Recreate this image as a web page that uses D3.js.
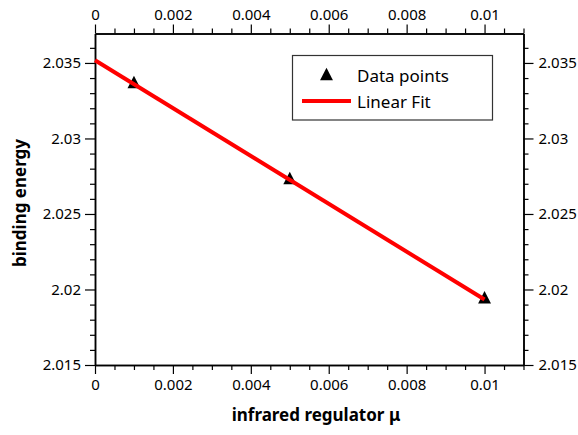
<!DOCTYPE html>
<html>
<head>
<meta charset="utf-8">
<script src="https://cdn.jsdelivr.net/npm/d3@7"></script>
<style>
  html, body { margin: 0; padding: 0; background: #fff; }
  svg { display: block; font-family: "Noto Sans", "Open Sans", sans-serif; }
</style>
</head>
<body>
<svg id="chart" width="578" height="435"></svg>
<script>
// Measured binding energy against the infrared regulator
const regulatorValues = [0.001, 0.005, 0.01];
const bindingEnergy = [2.0336, 2.02725, 2.01934];

// Tick values for both axes
const xTickValues = [0, 0.002, 0.004, 0.006, 0.008, 0.01];
const yTickValues = [2.015, 2.02, 2.025, 2.03, 2.035];

const xDomain = [0, 0.011];
const yDomain = [2.015, 2.03695];

const svg = d3.select("#chart");
const margin = { left: 95, right: 578 - 523.5, top: 33.5, bottom: 435 - 365 };
const W = 578, H = 435;

const x = d3.scaleLinear().domain(xDomain).range([margin.left, W - margin.right]);
const y = d3.scaleLinear().domain(yDomain).range([H - margin.bottom, margin.top]);

const xMinor = d3.range(0, 0.01101, 0.0005).filter(v => !xTickValues.some(t => Math.abs(t - v) < 1e-9));
const yMinor = d3.range(2.015, 2.0370, 0.001).filter(v => !yTickValues.some(t => Math.abs(t - v) < 1e-9));

const fmt = d => d3.format("~g")(d);

function styleAxis(g) {
  g.select(".domain").attr("stroke", "#000").attr("stroke-width", 1.5);
  g.selectAll(".tick line").attr("stroke", "#000").attr("stroke-width", 1.2);
  g.selectAll(".tick text").attr("fill", "#000").attr("font-size", 15)
    .attr("font-family", '"Noto Sans", sans-serif');
}

// Minor ticks drawn first, then major axes on top
svg.append("g").attr("transform", `translate(0,${y.range()[0]})`)
  .call(d3.axisBottom(x).tickValues(xMinor).tickSize(5).tickFormat("").tickSizeOuter(0)).call(styleAxis);
svg.append("g").attr("transform", `translate(0,${y.range()[1]})`)
  .call(d3.axisTop(x).tickValues(xMinor).tickSize(5).tickFormat("").tickSizeOuter(0)).call(styleAxis);
svg.append("g").attr("transform", `translate(${x.range()[0]},0)`)
  .call(d3.axisLeft(y).tickValues(yMinor).tickSize(5).tickFormat("").tickSizeOuter(0)).call(styleAxis);
svg.append("g").attr("transform", `translate(${x.range()[1]},0)`)
  .call(d3.axisRight(y).tickValues(yMinor).tickSize(5).tickFormat("").tickSizeOuter(0)).call(styleAxis);

svg.append("g").attr("transform", `translate(0,${y.range()[0]})`)
  .call(d3.axisBottom(x).tickValues(xTickValues).tickSize(9).tickPadding(5).tickFormat(fmt).tickSizeOuter(0)).call(styleAxis);
svg.append("g").attr("transform", `translate(0,${y.range()[1]})`)
  .call(d3.axisTop(x).tickValues(xTickValues).tickSize(9).tickPadding(5).tickFormat(fmt).tickSizeOuter(0)).call(styleAxis);
svg.append("g").attr("transform", `translate(${x.range()[0]},0)`)
  .call(d3.axisLeft(y).tickValues(yTickValues).tickSize(10).tickPadding(4).tickFormat(fmt).tickSizeOuter(0)).call(styleAxis);
svg.append("g").attr("transform", `translate(${x.range()[1]},0)`)
  .call(d3.axisRight(y).tickValues(yTickValues).tickSize(10).tickPadding(5).tickFormat(fmt).tickSizeOuter(0)).call(styleAxis);

// Least-squares linear fit through the data points
const n = regulatorValues.length;
const mx = d3.mean(regulatorValues), my = d3.mean(bindingEnergy);
let sxy = 0, sxx = 0;
for (let i = 0; i < n; i++) {
  sxy += (regulatorValues[i] - mx) * (bindingEnergy[i] - my);
  sxx += (regulatorValues[i] - mx) ** 2;
}
const slope = sxy / sxx, intercept = my - slope * mx;
const fitX = [0, d3.max(regulatorValues)];

const tri = d3.symbol().type(d3.symbolTriangle).size(72);

svg.append("g").selectAll("path").data(regulatorValues).join("path")
  .attr("d", tri)
  .attr("transform", (d, i) => `translate(${x(d)},${y(bindingEnergy[i])}) scale(1,1.12)`)
  .attr("fill", "#000");

svg.append("line")
  .attr("x1", x(fitX[0])).attr("y1", y(intercept + slope * fitX[0]))
  .attr("x2", x(fitX[1])).attr("y2", y(intercept + slope * fitX[1]))
  .attr("stroke", "#ff0000").attr("stroke-width", 4);

// Legend
const lg = svg.append("g");
lg.append("rect").attr("x", 292.5).attr("y", 55.5).attr("width", 200).attr("height", 64.5)
  .attr("fill", "#fff").attr("stroke", "#333").attr("stroke-width", 1.2);
lg.append("path").attr("d", tri).attr("transform", "translate(326.5,76) scale(1,1.12)").attr("fill", "#000");
lg.append("text").attr("x", 357).attr("y", 82).attr("font-size", 17).attr("fill", "#000").text("Data points");
lg.append("line").attr("x1", 302).attr("x2", 351).attr("y1", 101).attr("y2", 101)
  .attr("stroke", "#ff0000").attr("stroke-width", 4);
lg.append("text").attr("x", 357).attr("y", 108).attr("font-size", 17).attr("fill", "#000").text("Linear Fit");

// Axis titles
svg.append("text").attr("x", 316).attr("y", 421)
  .attr("text-anchor", "middle").attr("font-size", 17).attr("font-weight", "bold").attr("fill", "#000")
  .text("infrared regulator μ");
svg.append("text").attr("transform", `translate(26,203) rotate(-90)`)
  .attr("text-anchor", "middle").attr("font-size", 17).attr("font-weight", "bold").attr("fill", "#000")
  .text("binding energy");
</script>
</body>
</html>
